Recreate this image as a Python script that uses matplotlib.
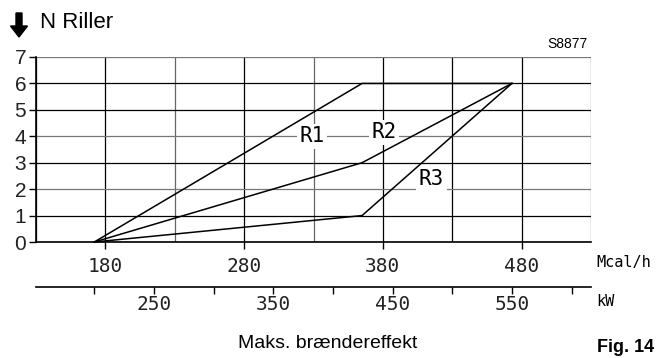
import numpy as np
import matplotlib.pyplot as plt
from matplotlib.patches import FancyArrow

# data (x in Mcal/h)
r1_x = [172, 365, 473]
r1_y = [0, 6, 6]
r2_x = [172, 365, 473]
r2_y = [0, 3, 6]
r3_x = [172, 365, 473]
r3_y = [0, 1, 6]

mcal_ticks = [180, 280, 380, 480]
kw_ticks = [200, 250, 300, 350, 400, 450, 500, 550, 600]
kw_labels = ['', '250', '', '350', '', '450', '', '550', '']
n_ticks = [0, 1, 2, 3, 4, 5, 6, 7]

KW2MCAL = 0.86

mono = 'DejaVu Sans Mono'
sans = 'Liberation Sans'

fig = plt.figure(figsize=(6.7, 3.58), dpi=100)
ax = fig.add_axes([36/670, 1-242/358, 555/670, 185/358])
ax.set_xlim(130, 530)
ax.set_ylim(0, 7)

# grid
for x in np.arange(130, 531, 50):
    c = '#666666' if x in (230, 330, 530) else 'black'
    ax.axvline(x, color=c, lw=0.9, zorder=1)
for y in n_ticks:
    c = '#777777' if y in (2, 4, 7) else 'black'
    ax.axhline(y, color=c, lw=0.9, zorder=1)

for xs, ys in [(r1_x, r1_y), (r2_x, r2_y), (r3_x, r3_y)]:
    ax.plot(xs, ys, color='black', lw=1.1, zorder=3, clip_on=False)

# labels sit on white boxes that hide the grid but not the curves
lab = dict(fontfamily=mono, fontsize=15, ha='center', va='center', zorder=2,
           bbox=dict(boxstyle='square,pad=0.12', fc='white', ec='none'))
ax.text(329, 4.0, 'R1', **lab)
ax.text(381, 4.15, 'R2', **lab)
ax.text(415, 2.4, 'R3', **lab)

for s in ['top', 'right']:
    ax.spines[s].set_visible(False)
ax.spines['left'].set_linewidth(1.2)
ax.spines['bottom'].set_linewidth(1.2)

ax.set_yticks(n_ticks)
ax.set_yticklabels([str(v) for v in n_ticks], fontfamily=sans, fontsize=15, color='#222222')
ax.tick_params(axis='y', length=5, width=1, pad=2)

ax.set_xticks(mcal_ticks)
ax.set_xticklabels([str(v) for v in mcal_ticks], fontfamily=mono, fontsize=14, color='#222222')
ax.tick_params(axis='x', length=5, width=1, pad=6)

sec = ax.secondary_xaxis(-0.243, functions=(lambda m: m / KW2MCAL, lambda k: k * KW2MCAL))
sec.set_xticks(kw_ticks)
sec.set_xticklabels(kw_labels, fontfamily=mono, fontsize=14, color='#222222')
sec.tick_params(axis='x', length=5, width=1, pad=1)
sec.spines['bottom'].set_linewidth(1.2)

fig.text(596/670, 1-263/358, 'Mcal/h', fontfamily=mono, fontsize=11, va='center', ha='left')
fig.text(596/670, 1-302/358, 'kW', fontfamily=mono, fontsize=11, va='center', ha='left')

# thick down arrow before the y title (pixel coordinates)
fig.add_artist(FancyArrow(19, 345, 0, -24, width=6, head_width=17, head_length=11,
                          length_includes_head=True, color='black', transform=None))
fig.text(40/670, 1-22/358, 'N Riller', fontfamily=sans, fontsize=16, va='center', ha='left')
fig.text(588/670, 1-44/358, 'S8877', fontfamily=sans, fontsize=10, va='center', ha='right')
fig.text(328/670, 1-343/358, 'Maks. brændereffekt', fontfamily=sans, fontsize=14, va='center', ha='center')
fig.text(597/670, 1-339/358, 'Fig. 14', fontfamily=sans, fontsize=13, fontweight='bold', va='top', ha='left')

fig.savefig('out.png', dpi=100)
